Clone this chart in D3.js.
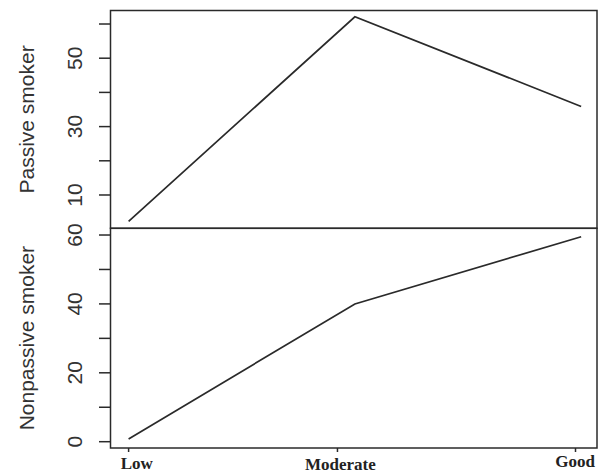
<!DOCTYPE html>
<html>
<head>
<meta charset="utf-8">
<script src="https://cdn.jsdelivr.net/npm/d3@7"></script>
<style>
html,body{margin:0;padding:0;background:#fff;}
svg{display:block;}
</style>
</head>
<body>
<svg id="chart" width="599" height="473"></svg>
<script>
// ---- data ----
const categories = ["Low", "Moderate", "Good"];
const categoryX = [1, 2, 3];
const passiveValues = [2.3, 62.1, 35.9];
const nonpassiveValues = [0.8, 40.0, 59.5];
const xTickAt = [1, 1.923, 2.975];
const xLabelAt = [1.036, 1.936, 2.973];
const topTicks = [10, 20, 30, 40, 50, 60];
const topTickLabels = [10, 30, 50];
const bottomTicks = [0, 10, 20, 30, 40, 50, 60];
const bottomTickLabels = [0, 20, 40, 60];
const panelTitles = ["Passive smoker", "Nonpassive smoker"];

// ---- layout ----
const svg = d3.select("#chart");
const left = 110.5, right = 597;
const topY0 = 10.5, midY = 228.3, botY1 = 448;
const ink = "#2a2a2a";

const x = d3.scaleLinear().domain([0.92, 3.07]).range([left, right]);
const yTop = d3.scaleLinear().domain([0.26, 63.95]).range([midY, topY0]);
const yBot = d3.scaleLinear().domain([-1.83, 61.95]).range([botY1, midY]);

function panel(y, values, ticks, labels, title) {
  const [y0, y1] = y.range();
  const line = d3.line().x((d, i) => x(categoryX[i])).y(d => y(d));
  svg.append("path").datum(values)
    .attr("d", line).attr("fill", "none")
    .attr("stroke", ink).attr("stroke-width", 1.7)
    .attr("stroke-linejoin", "miter");
  svg.append("rect").attr("x", left).attr("y", y1)
    .attr("width", right - left).attr("height", y0 - y1)
    .attr("fill", "none").attr("stroke", ink).attr("stroke-width", 1.5);
  const g = svg.append("g");
  g.selectAll("line.tk").data(ticks).enter().append("line")
    .attr("x1", left - 11.5).attr("x2", left)
    .attr("y1", d => y(d)).attr("y2", d => y(d))
    .attr("stroke", ink).attr("stroke-width", 1.5);
  g.selectAll("text.tl").data(labels).enter().append("text")
    .attr("transform", d => `translate(82,${y(d)}) rotate(-90)`)
    .attr("text-anchor", "middle")
    .attr("font-family", "Liberation Sans, Arial, sans-serif")
    .attr("font-size", 21).attr("fill", "#333")
    .text(d => d);
  svg.append("text")
    .attr("transform", `translate(33.5,${(y0 + y1) / 2}) rotate(-90)`)
    .attr("text-anchor", "middle")
    .attr("font-family", "Liberation Sans, Arial, sans-serif")
    .attr("font-size", 21).attr("fill", "#333")
    .text(title);
}

panel(yTop, passiveValues, topTicks, topTickLabels, panelTitles[0]);
panel(yBot, nonpassiveValues, bottomTicks, bottomTickLabels, panelTitles[1]);

svg.selectAll("line.xt").data(xTickAt).enter().append("line")
  .attr("x1", d => x(d)).attr("x2", d => x(d))
  .attr("y1", botY1).attr("y2", botY1 + 4)
  .attr("stroke", ink).attr("stroke-width", 1.5);
const baseY = [468.5, 469.5, 466.5];
svg.selectAll("text.xl").data(categories).enter().append("text")
  .attr("x", (d, i) => x(xLabelAt[i]))
  .attr("y", (d, i) => baseY[i])
  .attr("text-anchor", "middle")
  .attr("font-family", "Liberation Serif, Times New Roman, serif")
  .attr("font-weight", "bold")
  .attr("font-size", 17).attr("fill", "#222")
  .text(d => d);
</script>
</body>
</html>
